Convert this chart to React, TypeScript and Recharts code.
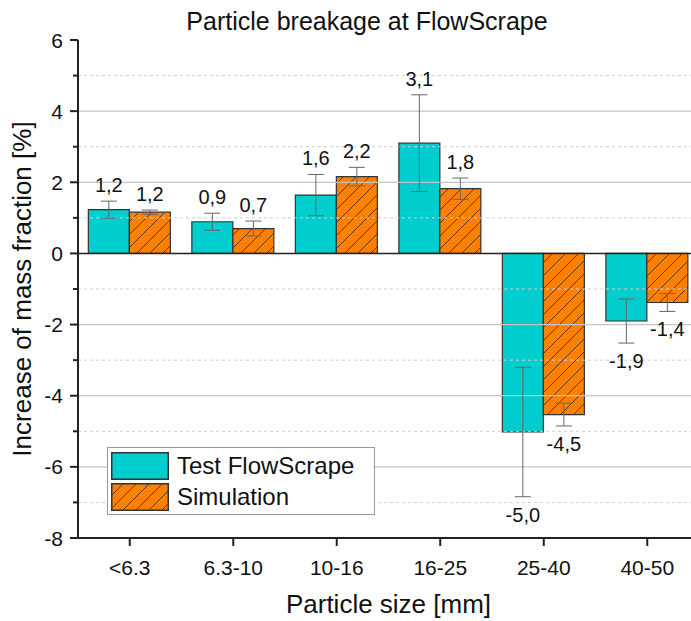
import { BarChart, Bar, XAxis, YAxis, ErrorBar, LabelList, ReferenceLine, Label } from 'recharts';

const categories = ['<6.3', '6.3-10', '10-16', '16-25', '25-40', '40-50'];
const testValues = [1.23, 0.89, 1.64, 3.1, -5.02, -1.9];
const testErrors = [0.24, 0.24, 0.58, 1.36, 1.82, 0.62];
const simValues = [1.16, 0.7, 2.16, 1.82, -4.53, -1.38];
const simErrors = [0.06, 0.21, 0.26, 0.3, 0.32, 0.25];
const yTicks = [-8, -7, -6, -5, -4, -3, -2, -1, 0, 1, 2, 3, 4, 5, 6];
const majorGrid = [4, 2, -2, -4, -6];
const minorGrid = [5, 3, 1, -1, -3, -5, -7];

const data = categories.map((c, i) => ({
  size: c,
  test: testValues[i],
  testErr: testErrors[i],
  sim: simValues[i],
  simErr: simErrors[i],
}));

const FONT = '"Liberation Sans", Arial, sans-serif';
const CYAN = '#00CDCD';
const ORANGE = '#FF8000';
const AXIS_X = 78;

function fmt(v: number) {
  return v.toFixed(1).replace('.', ',');
}

function makeValueLabel(errors: number[]) {
  return (props: any) => {
    const { x, y, width, height, value, index } = props;
    if (!value) return null;
    const scale = Math.abs(height / value);
    const top = Math.min(y, y + height);
    const bottom = Math.max(y, y + height);
    const err = errors[index] * scale;
    const ty = value >= 0 ? top - err - 9 : bottom + err + 25;
    return (
      <text x={x + width / 2} y={ty} textAnchor="middle" fontSize={20} fontFamily={FONT} fill="#111">
        {fmt(value)}
      </text>
    );
  };
}

function YTick(props: any) {
  const { y, payload } = props;
  const v = payload.value;
  const major = v % 2 === 0;
  return (
    <g>
      <line x1={AXIS_X - (major ? 8 : 5)} x2={AXIS_X} y1={y} y2={y} stroke="#222" strokeWidth={2} />
      {major && (
        <text x={AXIS_X - 15} y={y} dy="0.36em" textAnchor="end" fontSize={21} fontFamily={FONT} fill="#111">
          {v}
        </text>
      )}
    </g>
  );
}

function Hatch({ id }: { id: string }) {
  return (
    <pattern id={id} patternUnits="userSpaceOnUse" width={13} height={13}>
      <rect width={13} height={13} fill={ORANGE} />
      <path d="M0,13 L13,0 M-3,3 L3,-3 M10,16 L16,10" stroke="#3a2a1a" strokeWidth={0.8} />
    </pattern>
  );
}

export default function App() {
  return (
    <div style={{ position: 'absolute', left: 0, top: 0, width: 691, height: 621, overflow: 'hidden', background: '#fff' }}>
      <div
        style={{
          position: 'absolute',
          left: 0,
          top: 9,
          width: 734,
          textAlign: 'center',
          fontFamily: FONT,
          fontSize: 25,
          lineHeight: 1,
          color: '#111',
        }}
      >
        Particle breakage at FlowScrape
      </div>
      <BarChart
        width={710}
        height={621}
        data={data}
        margin={{ top: 40, right: 11, bottom: 0, left: 0 }}
        barCategoryGap="10%"
        barGap={0}
      >
        <defs>
          <Hatch id="hatch" />
        </defs>
        {majorGrid.map((v) => (
          <ReferenceLine key={`g${v}`} y={v} stroke="#c4c4c4" strokeWidth={1.2} />
        ))}
        {minorGrid.map((v) => (
          <ReferenceLine key={`m${v}`} y={v} stroke="#cfcfcf" strokeWidth={1} strokeDasharray="3 3" />
        ))}
        <XAxis
          dataKey="size"
          height={83}
          axisLine={{ stroke: '#222', strokeWidth: 2 }}
          tickLine={{ stroke: '#222', strokeWidth: 2 }}
          tickSize={8}
          tickMargin={14}
          tick={{ fill: '#111', fontSize: 21, fontFamily: FONT }}
          interval={0}
        >
          <Label value="Particle size [mm]" position="center" dy={24} fontSize={26} fontFamily={FONT} fill="#111" />
        </XAxis>
        <YAxis
          width={AXIS_X}
          domain={[-8, 6]}
          ticks={yTicks}
          interval={0}
          axisLine={{ stroke: '#222', strokeWidth: 2 }}
          tickLine={false}
          tick={<YTick />}
        >
          <Label
            value="Increase of mass fraction [%]"
            angle={-90}
            position="center"
            dx={-17}
            fontSize={26}
            fontFamily={FONT}
            fill="#111"
          />
        </YAxis>
        <ReferenceLine y={0} stroke="#222" strokeWidth={1.6} />
        <Bar dataKey="test" fill={CYAN} stroke="#333" strokeWidth={1.2} isAnimationActive={false}>
          <ErrorBar dataKey="testErr" width={8} stroke="#666" strokeWidth={1} direction="y" />
          <LabelList dataKey="test" content={makeValueLabel(testErrors)} />
        </Bar>
        <Bar dataKey="sim" fill="url(#hatch)" stroke="#333" strokeWidth={1.2} isAnimationActive={false}>
          <ErrorBar dataKey="simErr" width={8} stroke="#666" strokeWidth={1} direction="y" />
          <LabelList dataKey="sim" content={makeValueLabel(simErrors)} />
        </Bar>
      </BarChart>
      <div
        style={{
          position: 'absolute',
          left: 107,
          top: 447,
          width: 266,
          height: 66,
          border: '1px solid #999',
          background: '#fff',
          fontFamily: FONT,
          fontSize: 24,
          color: '#111',
        }}
      >
        {[
          { name: 'Test FlowScrape', fill: CYAN },
          { name: 'Simulation', fill: 'url(#hatchLegend)' },
        ].map((item, i) => (
          <div key={item.name} style={{ position: 'absolute', left: 3, top: 4 + i * 31, height: 28, display: 'flex', alignItems: 'center' }}>
            <svg width={58} height={28} style={{ display: 'block' }}>
              <defs>
                <Hatch id="hatchLegend" />
              </defs>
              <rect x={0.75} y={0.75} width={56.5} height={26.5} fill={item.fill} stroke="#333" strokeWidth={1.5} />
            </svg>
            <span style={{ marginLeft: 8, lineHeight: 1 }}>{item.name}</span>
          </div>
        ))}
      </div>
    </div>
  );
}
